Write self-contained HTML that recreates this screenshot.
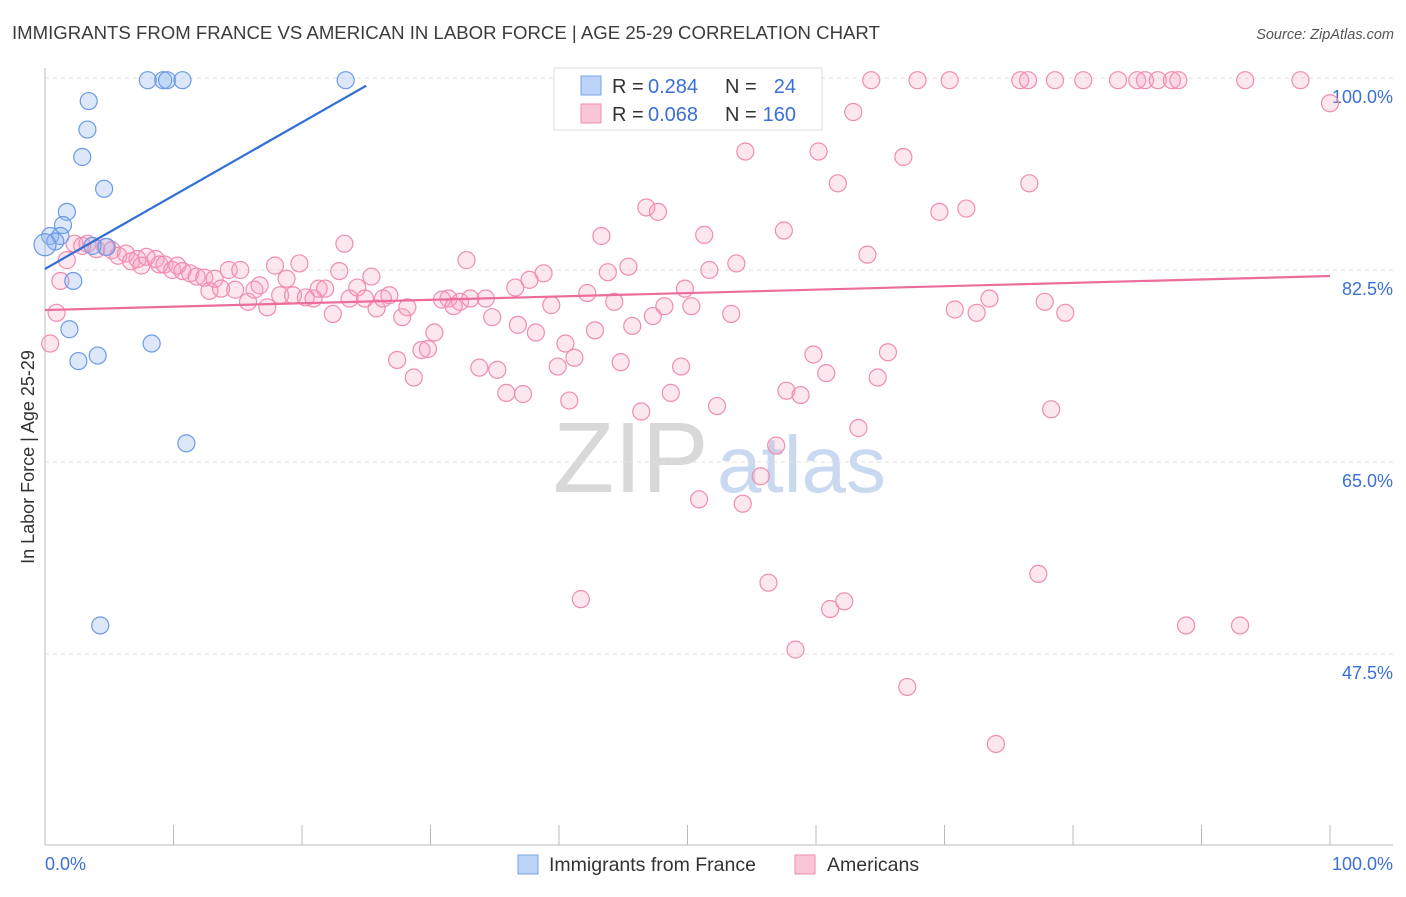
<!DOCTYPE html>
<html><head><meta charset="utf-8"><style>
body{margin:0;background:#fff;font-family:"Liberation Sans",sans-serif;}
svg text{font-family:"Liberation Sans",sans-serif;}
</style></head><body>
<svg id="chart" width="1406" height="892" viewBox="0 0 1406 892" xmlns="http://www.w3.org/2000/svg">
<text x="12" y="39" font-size="18.6" fill="#3c3c3c">IMMIGRANTS FROM FRANCE VS AMERICAN IN LABOR FORCE | AGE 25-29 CORRELATION CHART</text>
<text x="1394" y="39" font-size="14.5" fill="#555" font-style="italic" text-anchor="end">Source: ZipAtlas.com</text>
<g>
<text x="553" y="492" font-size="100" font-family="Liberation Serif,serif" fill="#d8d8d8">ZIP</text>
<text x="717" y="492" font-size="80" fill="#c9d9ef">atlas</text>
</g>
<g id="grid"></g>
<g id="axes"></g>
<g id="pts"></g>
<g id="trends"></g>
<g>
<rect x="554" y="68" width="268" height="62" fill="#fff" stroke="#ddd"/>
<rect x="581" y="76" width="20" height="19" fill="#bcd4f7" stroke="#7aa3e6"/>
<rect x="581" y="104" width="20" height="19" fill="#f9c6d8" stroke="#ee8eb0"/>
<text x="612" y="93" font-size="20" fill="#333">R =</text>
<text x="648" y="93" font-size="20" fill="#3b6fd4">0.284</text>
<text x="725" y="93" font-size="20" fill="#333">N =</text>
<text x="796" y="93" font-size="20" fill="#3b6fd4" text-anchor="end">24</text>
<text x="612" y="121" font-size="20" fill="#333">R =</text>
<text x="648" y="121" font-size="20" fill="#3b6fd4">0.068</text>
<text x="725" y="121" font-size="20" fill="#333">N =</text>
<text x="796" y="121" font-size="20" fill="#3b6fd4" text-anchor="end">160</text>
</g>
<g>
<rect x="518" y="855" width="20" height="19" fill="#bcd4f7" stroke="#7aa3e6"/>
<text x="549" y="871" font-size="19.5" fill="#333">Immigrants from France</text>
<rect x="795" y="855" width="20" height="19" fill="#f9c6d8" stroke="#ee8eb0"/>
<text x="827" y="871" font-size="19.5" fill="#333">Americans</text>
</g>
<text transform="translate(34,457) rotate(-90)" font-size="18" fill="#333" text-anchor="middle">In Labor Force | Age 25-29</text>
</svg>
<script>
const yTicks=[100,82.5,65,47.5];
const yTickLabels=["100.0%","82.5%","65.0%","47.5%"];
const xTicks=[10,20,30,40,50,60,70,80,90,100];
const franceX=[8.0,9.2,9.5,10.7,23.4,3.4,3.3,2.9,4.6,1.7,1.4,0.4,1.2,0.8,4.8,3.7,2.2,1.9,2.6,4.1,8.3,11.0,4.3,0];
const franceY=[99.8,99.8,99.8,99.8,99.8,97.9,95.3,92.8,89.9,87.8,86.6,85.6,85.6,85.1,84.6,84.7,81.5,77.1,74.2,74.7,75.8,66.7,50.1,84.8];
const amerX=[64.3,67.9,70.4,75.9,76.5,78.6,80.8,83.5,85.0,85.6,86.6,87.7,88.2,93.4,97.7,100,
55.4,62.9,54.5,60.2,66.8,61.7,76.6,46.8,47.7,69.6,71.7,43.3,51.3,57.5,64.0,32.8,53.8,23.3,45.4,43.8,51.7,36.6,38.8,37.7,42.2,44.3,49.8,48.2,50.3,47.3,53.4,45.7,42.8,39.4,40.5,36.8,38.2,41.2,39.9,44.8,49.5,34.8,34.3,32.3,31.4,30.9,31.8,33.1,30.3,29.3,29.8,27.4,28.7,33.8,35.2,35.9,37.2,40.8,46.4,48.7,52.3,57.7,58.8,59.8,60.8,64.8,65.6,63.3,56.9,55.7,50.9,54.3,56.3,41.7,61.1,62.2,58.4,67.1,74.0,77.3,88.8,93.0,78.3,70.8,72.5,73.5,77.8,79.4,
0.9,0.4,1.2,1.7,2.3,2.9,3.3,4.0,4.7,5.2,5.7,6.3,6.7,7.2,7.5,7.9,8.6,8.9,9.3,9.9,10.3,10.7,11.3,11.8,12.4,12.8,13.2,13.7,14.3,14.8,15.2,15.8,16.3,16.7,17.3,17.9,18.3,18.8,19.3,19.8,20.3,20.9,21.3,21.8,22.4,22.9,23.7,24.3,24.9,25.4,25.8,26.3,26.8,27.8,28.2];
const amerY=[99.8,99.8,99.8,99.8,99.8,99.8,99.8,99.8,99.8,99.8,99.8,99.8,99.8,99.8,99.8,97.7,
96.8,96.9,93.3,93.3,92.8,90.4,90.4,88.2,87.8,87.8,88.1,85.6,85.7,86.1,83.9,83.4,83.1,84.9,82.8,82.3,82.5,80.9,82.2,81.6,80.4,79.6,80.8,79.2,79.2,78.3,78.5,77.4,77.0,79.3,75.8,77.5,76.8,74.5,73.7,74.1,73.7,78.2,79.9,79.6,79.9,79.8,79.2,79.9,76.8,75.2,75.3,74.3,72.7,73.6,73.4,71.3,71.2,70.6,69.6,71.3,70.1,71.5,71.1,74.8,73.1,72.7,75.0,68.1,66.5,63.7,61.6,61.2,54.0,52.5,51.6,52.3,47.9,44.5,39.3,54.8,50.1,50.1,69.8,78.9,78.6,79.9,79.6,78.6,
78.6,75.8,81.5,83.4,84.9,84.7,84.9,84.4,84.6,84.3,83.8,84.0,83.3,83.5,82.9,83.7,83.5,83.0,83.0,82.5,82.9,82.4,82.2,81.9,81.8,80.6,81.7,80.8,82.5,80.7,82.5,79.6,80.7,81.1,79.1,82.9,80.2,81.7,80.2,83.1,80.0,79.9,80.8,80.8,78.5,82.4,79.9,80.9,79.9,81.9,79.0,79.9,80.2,78.2,79.1];
const franceTrend=[[0,82.6],[25,99.3]];
const amerTrend=[[0,78.85],[100,81.95]];
const NS="http://www.w3.org/2000/svg";
const X=v=>45+v*12.85;
const Y=v=>78+(100-v)*192/17.5;
function mk(tag,attrs,parent){const e=document.createElementNS(NS,tag);for(const k in attrs)e.setAttribute(k,attrs[k]);parent.appendChild(e);return e;}
const grid=document.getElementById('grid'),axes=document.getElementById('axes');
yTicks.forEach((t,i)=>{
 const l=mk('line',{x1:45,x2:1393,y1:Y(t),y2:Y(t),stroke:'#e2e2e2','stroke-dasharray':'4,4'},grid);
 
 
 const tx=mk('text',{x:1393,y:Y(t)+25,'font-size':18,fill:'#3b6fd4','text-anchor':'end'},axes);
 tx.textContent=yTickLabels[i];
 
 
});
const ya=mk('line',{x1:45,x2:45,y1:68,y2:845,stroke:'#bbb'},axes);


const xa=mk('line',{x1:45,x2:1393,y1:845,y2:845,stroke:'#bbb'},axes);


xTicks.forEach(t=>{
 const l=mk('line',{x1:X(t),x2:X(t),y1:825,y2:845,stroke:'#bbb'},axes);
 
 
});
const x0=mk('text',{x:45,y:870,'font-size':18,fill:'#3b6fd4'},axes);x0.textContent='0.0%';


const x1=mk('text',{x:1393,y:870,'font-size':18,fill:'#3b6fd4','text-anchor':'end'},axes);x1.textContent='100.0%';


const pts=document.getElementById('pts');
amerX.forEach((x,i)=>{
 const c=mk('circle',{cx:X(x),cy:Y(amerY[i]),r:8.5,fill:'rgba(246,160,190,0.25)',stroke:'#f08cb0','stroke-width':1.2},pts);
 
 
});
franceX.forEach((x,i)=>{
 const c=mk('circle',{cx:X(x),cy:Y(franceY[i]),r:i==23?11:8.5,fill:'rgba(140,180,240,0.3)',stroke:'#6c9ae6','stroke-width':1.2},pts);
 
 
});
const tr=document.getElementById('trends');
const t1=mk('line',{x1:X(franceTrend[0][0]),y1:Y(franceTrend[0][1]),x2:X(franceTrend[1][0]),y2:Y(franceTrend[1][1]),stroke:'#2f6fd6','stroke-width':2.2},tr);


const t2=mk('line',{x1:X(amerTrend[0][0]),y1:Y(amerTrend[0][1]),x2:X(amerTrend[1][0]),y2:Y(amerTrend[1][1]),stroke:'#ec6d9c','stroke-width':2.2},tr);


</script>
</body></html>
